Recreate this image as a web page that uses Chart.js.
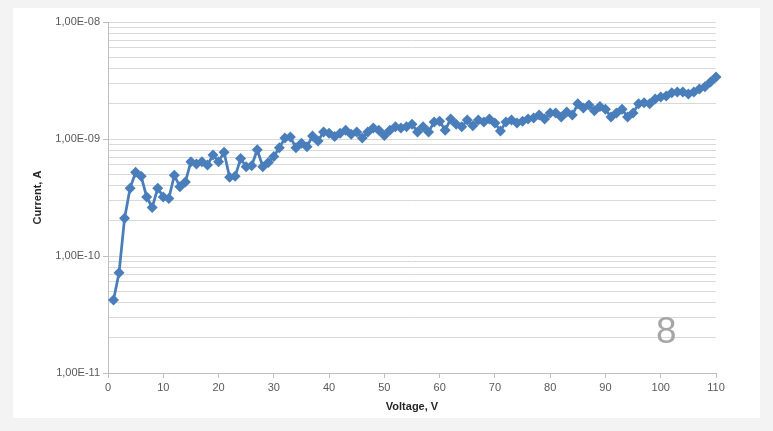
<!DOCTYPE html>
<html lang="en">
<head>
    <meta charset="UTF-8">
    <title>Current vs Voltage</title>
    <script src="https://cdn.jsdelivr.net/npm/chart.js"></script>
    <style>
        html, body {
            margin: 0;
            padding: 0;
            width: 773px;
            height: 431px;
            overflow: hidden;
            background-color: #f3f3f3;
            font-family: "Liberation Sans", Arial, sans-serif;
        }

        .panel {
            position: absolute;
            left: 13px;
            top: 8px;
            width: 747px;
            height: 410px;
            background-color: #ffffff;
        }

        .mark {
            position: absolute;
            left: 643px;
            top: 304px;
            font-size: 37px;
            color: #a6a6a6;
            line-height: 1;
        }
    </style>
</head>
<body>
    <div class="panel">
        <canvas id="ivChart" width="747" height="410"></canvas>
        <div class="mark">8</div>
    </div>

    <script>
        // измерения: напряжение (В) и ток (А)
        const voltages = [
            1, 2, 3, 4, 5, 6, 7, 8, 9, 10,
            11, 12, 13, 14, 15, 16, 17, 18, 19, 20,
            21, 22, 23, 24, 25, 26, 27, 28, 29, 30,
            31, 32, 33, 34, 35, 36, 37, 38, 39, 40,
            41, 42, 43, 44, 45, 46, 47, 48, 49, 50,
            51, 52, 53, 54, 55, 56, 57, 58, 59, 60,
            61, 62, 63, 64, 65, 66, 67, 68, 69, 70,
            71, 72, 73, 74, 75, 76, 77, 78, 79, 80,
            81, 82, 83, 84, 85, 86, 87, 88, 89, 90,
            91, 92, 93, 94, 95, 96, 97, 98, 99, 100,
            101, 102, 103, 104, 105, 106, 107, 108, 109, 110
        ];

        const currents = [
            4.2e-11, 7.2e-11, 2.1e-10, 3.8e-10, 5.2e-10, 4.8e-10, 3.2e-10, 2.6e-10, 3.8e-10, 3.2e-10,
            3.1e-10, 4.9e-10, 3.9e-10, 4.3e-10, 6.4e-10, 6.1e-10, 6.4e-10, 6.0e-10, 7.3e-10, 6.4e-10,
            7.7e-10, 4.7e-10, 4.8e-10, 6.8e-10, 5.8e-10, 5.9e-10, 8.1e-10, 5.8e-10, 6.3e-10, 7.1e-10,
            8.4e-10, 1.02e-9, 1.04e-9, 8.4e-10, 9.2e-10, 8.6e-10, 1.06e-9, 9.6e-10, 1.15e-9, 1.12e-9,
            1.05e-9, 1.12e-9, 1.19e-9, 1.10e-9, 1.15e-9, 1.02e-9, 1.15e-9, 1.24e-9, 1.19e-9, 1.07e-9,
            1.19e-9, 1.27e-9, 1.24e-9, 1.27e-9, 1.34e-9, 1.15e-9, 1.27e-9, 1.15e-9, 1.40e-9, 1.42e-9,
            1.19e-9, 1.48e-9, 1.34e-9, 1.27e-9, 1.45e-9, 1.30e-9, 1.45e-9, 1.40e-9, 1.48e-9, 1.37e-9,
            1.17e-9, 1.40e-9, 1.45e-9, 1.37e-9, 1.42e-9, 1.48e-9, 1.51e-9, 1.60e-9, 1.48e-9, 1.67e-9,
            1.67e-9, 1.54e-9, 1.70e-9, 1.60e-9, 2.00e-9, 1.84e-9, 1.95e-9, 1.74e-9, 1.90e-9, 1.80e-9,
            1.54e-9, 1.67e-9, 1.80e-9, 1.54e-9, 1.67e-9, 2.00e-9, 2.04e-9, 2.00e-9, 2.20e-9, 2.28e-9,
            2.33e-9, 2.48e-9, 2.52e-9, 2.52e-9, 2.42e-9, 2.52e-9, 2.67e-9, 2.80e-9, 3.07e-9, 3.39e-9
        ];

        // подписи осей
        const yDecades = [1e-11, 1e-10, 1e-9, 1e-8];
        const yTickLabels = ['1,00E-11', '1,00E-10', '1,00E-09', '1,00E-08'];
        const yMantissas = [1, 2, 3, 4, 5, 6, 7, 8, 9];
        const xTicks = [0, 10, 20, 30, 40, 50, 60, 70, 80, 90, 100, 110];

        const isDecade = (v) => yDecades.some(d => Math.abs(v / d - 1) < 1e-6);

        // линии сетки: 1..9 в каждой декаде
        const yGrid = [];
        for (let i = 0; i < yDecades.length - 1; i++) {
            yMantissas.forEach(m => yGrid.push(m * yDecades[i]));
        }
        yGrid.push(yDecades[yDecades.length - 1]);

        const axisFont = { family: "'Liberation Sans', Arial, sans-serif", size: 11 };
        const titleFont = { family: "'Liberation Sans', Arial, sans-serif", size: 11, weight: 'bold' };

        const ctx = document.getElementById('ivChart').getContext('2d');
        new Chart(ctx, {
            type: 'line',
            data: {
                datasets: [{
                    data: voltages.map((v, i) => ({ x: v, y: currents[i] })),
                    borderColor: '#4a7ebb',
                    backgroundColor: '#4a7ebb',
                    borderWidth: 2.75,
                    pointStyle: 'rectRot',
                    pointRadius: 5.5,
                    pointBorderWidth: 0,
                    tension: 0,
                    clip: false
                }]
            },
            options: {
                responsive: false,
                animation: false,
                layout: { padding: { top: 14, right: 44, left: 0, bottom: 0 } },
                plugins: {
                    legend: { display: false },
                    tooltip: { enabled: false }
                },
                scales: {
                    x: {
                        type: 'linear',
                        min: 0,
                        max: 110,
                        afterBuildTicks: (scale) => { scale.ticks = xTicks.map(v => ({ value: v })); },
                        afterFit: (scale) => { scale.height = 45; },
                        ticks: {
                            autoSkip: false,
                            maxRotation: 0,
                            padding: 3,
                            color: '#595959',
                            font: axisFont
                        },
                        grid: {
                            drawOnChartArea: false,
                            tickLength: 5,
                            tickColor: '#bfbfbf'
                        },
                        border: { color: '#bfbfbf' },
                        title: {
                            display: true,
                            text: 'Voltage, V',
                            color: '#262626',
                            font: titleFont,
                            padding: { top: 0, bottom: 4 }
                        }
                    },
                    y: {
                        type: 'logarithmic',
                        min: 1e-11,
                        max: 1e-8,
                        afterBuildTicks: (scale) => { scale.ticks = yGrid.map(v => ({ value: v })); },
                        afterFit: (scale) => { scale.width = 95; },
                        ticks: {
                            autoSkip: false,
                            padding: 3,
                            color: '#595959',
                            font: axisFont,
                            callback: (value) => {
                                const i = yDecades.findIndex(d => Math.abs(value / d - 1) < 1e-6);
                                return i >= 0 ? yTickLabels[i] : '';
                            }
                        },
                        grid: {
                            color: '#d9d9d9',
                            lineWidth: 1,
                            tickLength: 5,
                            tickColor: (c) => (c.tick && isDecade(c.tick.value)) ? '#bfbfbf' : 'rgba(0,0,0,0)'
                        },
                        border: { color: '#bfbfbf' },
                        title: {
                            display: true,
                            text: 'Current, A',
                            color: '#262626',
                            font: titleFont,
                            padding: { top: 18, bottom: 0 }
                        }
                    }
                }
            }
        });
    </script>
</body>
</html>
